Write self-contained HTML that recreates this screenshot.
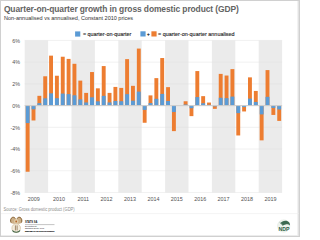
<!DOCTYPE html>
<html><head><meta charset="utf-8"><style>
html,body{margin:0;padding:0;background:#fff;}
body{width:300px;height:237px;overflow:hidden;position:relative;font-family:"Liberation Sans",sans-serif;}
svg{position:absolute;left:0;top:0;}
.ax{font-family:"Liberation Sans",sans-serif;font-size:5.4px;fill:#525252;}
</style></head><body>
<svg width="300" height="237" viewBox="0 0 300 237">
<rect x="0.5" y="0.5" width="299" height="236" fill="#fff" stroke="#d0d0d0" stroke-width="1"/>
<rect x="297" y="1" width="1" height="235" fill="#f2f2f2"/><rect x="298" y="1" width="1" height="235" fill="#e2e2e2"/>
<rect x="1" y="235" width="297" height="1" fill="#ececec"/>
<text x="3.9" y="12.0" style="font-family:'Liberation Sans',sans-serif;font-weight:bold;font-size:8.45px;letter-spacing:-0.1px;fill:#636363">Quarter-on-quarter growth in gross domestic product (GDP)</text>
<text x="4" y="19.5" style="font-family:'Liberation Sans',sans-serif;font-size:5.52px;fill:#333">Non-annualised vs annualised, Constant 2010 prices</text>
<rect x="75.1" y="31.4" width="5.2" height="5.2" fill="#5b9bd5"/>
<text x="82.9" y="36.2" style="font-family:'Liberation Sans',sans-serif;font-size:5.4px;fill:#262626;stroke:#262626;stroke-width:0.12">= quarter-on-quarter</text>
<rect x="140.4" y="31.3" width="5.2" height="5.2" fill="#5b9bd5"/>
<text x="146.9" y="35.6" style="font-family:'Liberation Sans',sans-serif;font-size:4.6px;fill:#262626;stroke:#262626;stroke-width:0.2">+</text>
<rect x="151.4" y="31.3" width="5.2" height="5.2" fill="#ed7d31"/>
<text x="158" y="36.2" style="font-family:'Liberation Sans',sans-serif;font-size:5.45px;fill:#262626;stroke:#262626;stroke-width:0.12">= quarter-on-quarter annualised</text>
<rect x="24.70" y="40.44" width="23.40" height="152.04" fill="#ebebeb"/>
<rect x="71.50" y="40.44" width="23.40" height="152.04" fill="#ebebeb"/>
<rect x="118.30" y="40.44" width="23.40" height="152.04" fill="#ebebeb"/>
<rect x="165.10" y="40.44" width="23.40" height="152.04" fill="#ebebeb"/>
<rect x="211.90" y="40.44" width="23.40" height="152.04" fill="#ebebeb"/>
<rect x="258.70" y="40.44" width="23.40" height="152.04" fill="#ebebeb"/>
<line x1="24.70" x2="282.10" y1="40.44" y2="40.44" stroke="#e0e0e0" stroke-width="0.45"/>
<line x1="24.70" x2="282.10" y1="62.16" y2="62.16" stroke="#e0e0e0" stroke-width="0.45"/>
<line x1="24.70" x2="282.10" y1="83.88" y2="83.88" stroke="#e0e0e0" stroke-width="0.45"/>
<line x1="24.70" x2="282.10" y1="105.60" y2="105.60" stroke="#e0e0e0" stroke-width="0.45"/>
<line x1="24.70" x2="282.10" y1="127.32" y2="127.32" stroke="#e0e0e0" stroke-width="0.45"/>
<line x1="24.70" x2="282.10" y1="149.04" y2="149.04" stroke="#e0e0e0" stroke-width="0.45"/>
<line x1="24.70" x2="282.10" y1="170.76" y2="170.76" stroke="#e0e0e0" stroke-width="0.45"/>
<line x1="24.70" x2="282.10" y1="192.48" y2="192.48" stroke="#e0e0e0" stroke-width="0.45"/>
<rect x="25.70" y="105.60" width="3.9" height="66.14" fill="#ed7d31"/>
<rect x="25.70" y="105.60" width="3.9" height="17.48" fill="#5b9bd5"/>
<rect x="31.55" y="105.60" width="3.9" height="14.88" fill="#ed7d31"/>
<rect x="31.55" y="105.60" width="3.9" height="3.74" fill="#5b9bd5"/>
<rect x="37.40" y="95.83" width="3.9" height="9.77" fill="#ed7d31"/>
<rect x="37.40" y="103.16" width="3.9" height="2.44" fill="#5b9bd5"/>
<rect x="43.25" y="76.28" width="3.9" height="29.32" fill="#ed7d31"/>
<rect x="43.25" y="98.34" width="3.9" height="7.26" fill="#5b9bd5"/>
<rect x="49.10" y="55.64" width="3.9" height="49.96" fill="#ed7d31"/>
<rect x="49.10" y="93.32" width="3.9" height="12.28" fill="#5b9bd5"/>
<rect x="54.95" y="75.73" width="3.9" height="29.86" fill="#ed7d31"/>
<rect x="54.95" y="98.21" width="3.9" height="7.39" fill="#5b9bd5"/>
<rect x="60.80" y="56.73" width="3.9" height="48.87" fill="#ed7d31"/>
<rect x="60.80" y="93.58" width="3.9" height="12.02" fill="#5b9bd5"/>
<rect x="66.65" y="58.90" width="3.9" height="46.70" fill="#ed7d31"/>
<rect x="66.65" y="94.11" width="3.9" height="11.49" fill="#5b9bd5"/>
<rect x="72.50" y="63.79" width="3.9" height="41.81" fill="#ed7d31"/>
<rect x="72.50" y="95.29" width="3.9" height="10.31" fill="#5b9bd5"/>
<rect x="78.35" y="80.62" width="3.9" height="24.98" fill="#ed7d31"/>
<rect x="78.35" y="99.41" width="3.9" height="6.19" fill="#5b9bd5"/>
<rect x="84.20" y="92.89" width="3.9" height="12.71" fill="#ed7d31"/>
<rect x="84.20" y="102.44" width="3.9" height="3.16" fill="#5b9bd5"/>
<rect x="90.05" y="72.04" width="3.9" height="33.56" fill="#ed7d31"/>
<rect x="90.05" y="97.31" width="3.9" height="8.29" fill="#5b9bd5"/>
<rect x="95.90" y="88.33" width="3.9" height="17.27" fill="#ed7d31"/>
<rect x="95.90" y="101.31" width="3.9" height="4.29" fill="#5b9bd5"/>
<rect x="101.75" y="66.07" width="3.9" height="39.53" fill="#ed7d31"/>
<rect x="101.75" y="95.85" width="3.9" height="9.75" fill="#5b9bd5"/>
<rect x="107.60" y="92.89" width="3.9" height="12.71" fill="#ed7d31"/>
<rect x="107.60" y="102.44" width="3.9" height="3.16" fill="#5b9bd5"/>
<rect x="113.45" y="86.92" width="3.9" height="18.68" fill="#ed7d31"/>
<rect x="113.45" y="100.96" width="3.9" height="4.64" fill="#5b9bd5"/>
<rect x="119.30" y="87.90" width="3.9" height="17.70" fill="#ed7d31"/>
<rect x="119.30" y="101.20" width="3.9" height="4.40" fill="#5b9bd5"/>
<rect x="125.15" y="59.12" width="3.9" height="46.48" fill="#ed7d31"/>
<rect x="125.15" y="94.16" width="3.9" height="11.44" fill="#5b9bd5"/>
<rect x="131.00" y="85.83" width="3.9" height="19.77" fill="#ed7d31"/>
<rect x="131.00" y="100.69" width="3.9" height="4.91" fill="#5b9bd5"/>
<rect x="136.85" y="48.58" width="3.9" height="57.02" fill="#ed7d31"/>
<rect x="136.85" y="91.62" width="3.9" height="13.98" fill="#5b9bd5"/>
<rect x="142.70" y="105.60" width="3.9" height="17.16" fill="#ed7d31"/>
<rect x="142.70" y="105.60" width="3.9" height="4.32" fill="#5b9bd5"/>
<rect x="148.55" y="95.39" width="3.9" height="10.21" fill="#ed7d31"/>
<rect x="148.55" y="103.06" width="3.9" height="2.54" fill="#5b9bd5"/>
<rect x="154.40" y="78.12" width="3.9" height="27.48" fill="#ed7d31"/>
<rect x="154.40" y="98.80" width="3.9" height="6.80" fill="#5b9bd5"/>
<rect x="160.25" y="58.03" width="3.9" height="47.57" fill="#ed7d31"/>
<rect x="160.25" y="93.90" width="3.9" height="11.70" fill="#5b9bd5"/>
<rect x="166.10" y="87.14" width="3.9" height="18.46" fill="#ed7d31"/>
<rect x="166.10" y="101.01" width="3.9" height="4.59" fill="#5b9bd5"/>
<rect x="171.95" y="105.60" width="3.9" height="25.52" fill="#ed7d31"/>
<rect x="171.95" y="105.60" width="3.9" height="6.44" fill="#5b9bd5"/>
<rect x="177.80" y="105.60" width="3.9" height="0.00" fill="#ed7d31"/>
<rect x="177.80" y="105.60" width="3.9" height="0.00" fill="#5b9bd5"/>
<rect x="183.65" y="101.26" width="3.9" height="4.34" fill="#ed7d31"/>
<rect x="183.65" y="104.52" width="3.9" height="1.08" fill="#5b9bd5"/>
<rect x="189.50" y="105.60" width="3.9" height="10.53" fill="#ed7d31"/>
<rect x="189.50" y="105.60" width="3.9" height="2.64" fill="#5b9bd5"/>
<rect x="195.35" y="71.07" width="3.9" height="34.53" fill="#ed7d31"/>
<rect x="195.35" y="97.07" width="3.9" height="8.53" fill="#5b9bd5"/>
<rect x="201.20" y="96.15" width="3.9" height="9.45" fill="#ed7d31"/>
<rect x="201.20" y="103.25" width="3.9" height="2.35" fill="#5b9bd5"/>
<rect x="207.05" y="102.56" width="3.9" height="3.04" fill="#ed7d31"/>
<rect x="207.05" y="104.84" width="3.9" height="0.76" fill="#5b9bd5"/>
<rect x="212.90" y="105.60" width="3.9" height="3.26" fill="#ed7d31"/>
<rect x="212.90" y="105.60" width="3.9" height="0.82" fill="#5b9bd5"/>
<rect x="218.75" y="73.89" width="3.9" height="31.71" fill="#ed7d31"/>
<rect x="218.75" y="97.76" width="3.9" height="7.84" fill="#5b9bd5"/>
<rect x="224.60" y="75.52" width="3.9" height="30.08" fill="#ed7d31"/>
<rect x="224.60" y="98.16" width="3.9" height="7.44" fill="#5b9bd5"/>
<rect x="230.45" y="69.11" width="3.9" height="36.49" fill="#ed7d31"/>
<rect x="230.45" y="96.59" width="3.9" height="9.01" fill="#5b9bd5"/>
<rect x="236.30" y="105.60" width="3.9" height="29.87" fill="#ed7d31"/>
<rect x="236.30" y="105.60" width="3.9" height="7.54" fill="#5b9bd5"/>
<rect x="242.15" y="105.60" width="3.9" height="5.86" fill="#ed7d31"/>
<rect x="242.15" y="105.60" width="3.9" height="1.47" fill="#5b9bd5"/>
<rect x="248.00" y="77.36" width="3.9" height="28.24" fill="#ed7d31"/>
<rect x="248.00" y="98.61" width="3.9" height="6.99" fill="#5b9bd5"/>
<rect x="253.85" y="90.94" width="3.9" height="14.66" fill="#ed7d31"/>
<rect x="253.85" y="101.95" width="3.9" height="3.65" fill="#5b9bd5"/>
<rect x="259.70" y="105.60" width="3.9" height="34.75" fill="#ed7d31"/>
<rect x="259.70" y="105.60" width="3.9" height="8.79" fill="#5b9bd5"/>
<rect x="265.55" y="70.09" width="3.9" height="35.51" fill="#ed7d31"/>
<rect x="265.55" y="96.83" width="3.9" height="8.77" fill="#5b9bd5"/>
<rect x="271.40" y="105.60" width="3.9" height="9.34" fill="#ed7d31"/>
<rect x="271.40" y="105.60" width="3.9" height="2.34" fill="#5b9bd5"/>
<rect x="277.25" y="105.60" width="3.9" height="15.31" fill="#ed7d31"/>
<rect x="277.25" y="105.60" width="3.9" height="3.85" fill="#5b9bd5"/>
<rect x="24.70" y="105.10" width="257.40" height="1" fill="#cfcfcf"/>
<text x="20" y="42.74" text-anchor="end" class="ax">6%</text>
<text x="20" y="64.46" text-anchor="end" class="ax">4%</text>
<text x="20" y="86.18" text-anchor="end" class="ax">2%</text>
<text x="20" y="107.90" text-anchor="end" class="ax">0%</text>
<text x="20" y="129.62" text-anchor="end" class="ax">-2%</text>
<text x="20" y="151.34" text-anchor="end" class="ax">-4%</text>
<text x="20" y="173.06" text-anchor="end" class="ax">-6%</text>
<text x="20" y="194.78" text-anchor="end" class="ax">-8%</text>
<text x="33.80" y="200.8" text-anchor="middle" class="ax">2009</text>
<text x="59.00" y="200.8" text-anchor="middle" class="ax">2010</text>
<text x="83.20" y="200.8" text-anchor="middle" class="ax">2011</text>
<text x="106.60" y="200.8" text-anchor="middle" class="ax">2012</text>
<text x="130.00" y="200.8" text-anchor="middle" class="ax">2013</text>
<text x="153.40" y="200.8" text-anchor="middle" class="ax">2014</text>
<text x="176.80" y="200.8" text-anchor="middle" class="ax">2015</text>
<text x="200.20" y="200.8" text-anchor="middle" class="ax">2016</text>
<text x="223.60" y="200.8" text-anchor="middle" class="ax">2017</text>
<text x="247.00" y="200.8" text-anchor="middle" class="ax">2018</text>
<text x="270.40" y="200.8" text-anchor="middle" class="ax">2019</text>
<text x="3.5" y="211.2" textLength="71.2" lengthAdjust="spacingAndGlyphs" style="font-family:'Liberation Sans',sans-serif;font-size:4.5px;fill:#8c8c8c">Source: Gross domestic product (GDP)</text>
<line x1="1" x2="299" y1="213.6" y2="213.6" stroke="#ededed" stroke-width="0.6"/>
<g id="coa">
<path d="M16.2,223.4 C14.6,224 12.2,224 10.9,222.8 C9.7,221.4 10.1,218.4 12.1,217.2 C13.6,216.5 15.2,217.4 15.8,219 C16,219.6 16.1,220.2 16.2,220.8 C16.3,220.2 16.4,219.6 16.6,219 C17.2,217.4 18.8,216.5 20.3,217.2 C22.3,218.4 22.7,221.4 21.5,222.8 C20.2,224 17.8,224 16.2,223.4 Z" fill="#cdb088"/>
<path d="M11.1,222.6 C10.1,221 10.5,218.2 12.4,217.4 C13.6,216.9 14.8,217.6 15.3,218.6 M21.3,222.6 C22.3,221 21.9,218.2 20,217.4 C18.8,216.9 17.6,217.6 17.1,218.6" stroke="#876437" stroke-width="1" fill="none"/>
<ellipse cx="16.2" cy="221.4" rx="2.2" ry="2.2" fill="#e0cba6"/>
<circle cx="16.2" cy="221.5" r="0.9" fill="#b5652c"/>
<ellipse cx="16.2" cy="228.1" rx="4.3" ry="4.3" fill="#f3ecdd" stroke="#cdb58e" stroke-width="0.6"/>
<line x1="15.4" x2="15.4" y1="225.4" y2="230.4" stroke="#86643f" stroke-width="0.75"/>
<line x1="17.1" x2="17.1" y1="225.4" y2="230.4" stroke="#86643f" stroke-width="0.75"/>
<path d="M12.4,230.6 C13.6,232.8 18.8,232.8 20,230.6" stroke="#3e6446" stroke-width="1.1" fill="none"/>
</g>
<text x="24.9" y="223.2" textLength="12.5" lengthAdjust="spacingAndGlyphs" style="font-family:'Liberation Sans',sans-serif;font-weight:bold;font-size:4.1px;fill:#222">STATS SA</text>
<line x1="25" x2="54.5" y1="224.6" y2="224.6" stroke="#555" stroke-width="0.35"/>
<text x="25" y="227.3" textLength="12" lengthAdjust="spacingAndGlyphs" style="font-family:'Liberation Sans',sans-serif;font-size:2.2px;fill:#222">Department:</text>
<text x="25" y="229.4" textLength="19" lengthAdjust="spacingAndGlyphs" style="font-family:'Liberation Sans',sans-serif;font-size:2.2px;fill:#222">Statistics South Africa</text>
<text x="25" y="231.7" textLength="29.5" lengthAdjust="spacingAndGlyphs" style="font-family:'Liberation Sans',sans-serif;font-weight:bold;font-size:2.4px;fill:#111;stroke:#111;stroke-width:0.15">REPUBLIC OF SOUTH AFRICA</text>
<g id="ndp">
<circle cx="283.7" cy="226" r="6.2" fill="#eef3ee" stroke="#dfe6df" stroke-width="0.5"/>
<path d="M280.4,223.4 C281.6,221.2 284.6,220.2 287.2,221 C289,221.6 290,223.2 290,225.4 C289,224.6 287.3,224 285.6,224.4 C284.4,224.7 283.4,225.2 282.6,225.8 C282.2,224.8 281.4,223.8 280.4,223.4 Z" fill="#3d6a52"/>
<path d="M279.6,222.4 L283.2,224.8" stroke="#6f8f7c" stroke-width="0.6"/>
<text x="284" y="230.8" text-anchor="middle" textLength="11" lengthAdjust="spacingAndGlyphs" style="font-family:'Liberation Sans',sans-serif;font-weight:bold;font-size:5.6px;fill:#2d5e45">NDP</text>
</g>
</svg>
</body></html>
